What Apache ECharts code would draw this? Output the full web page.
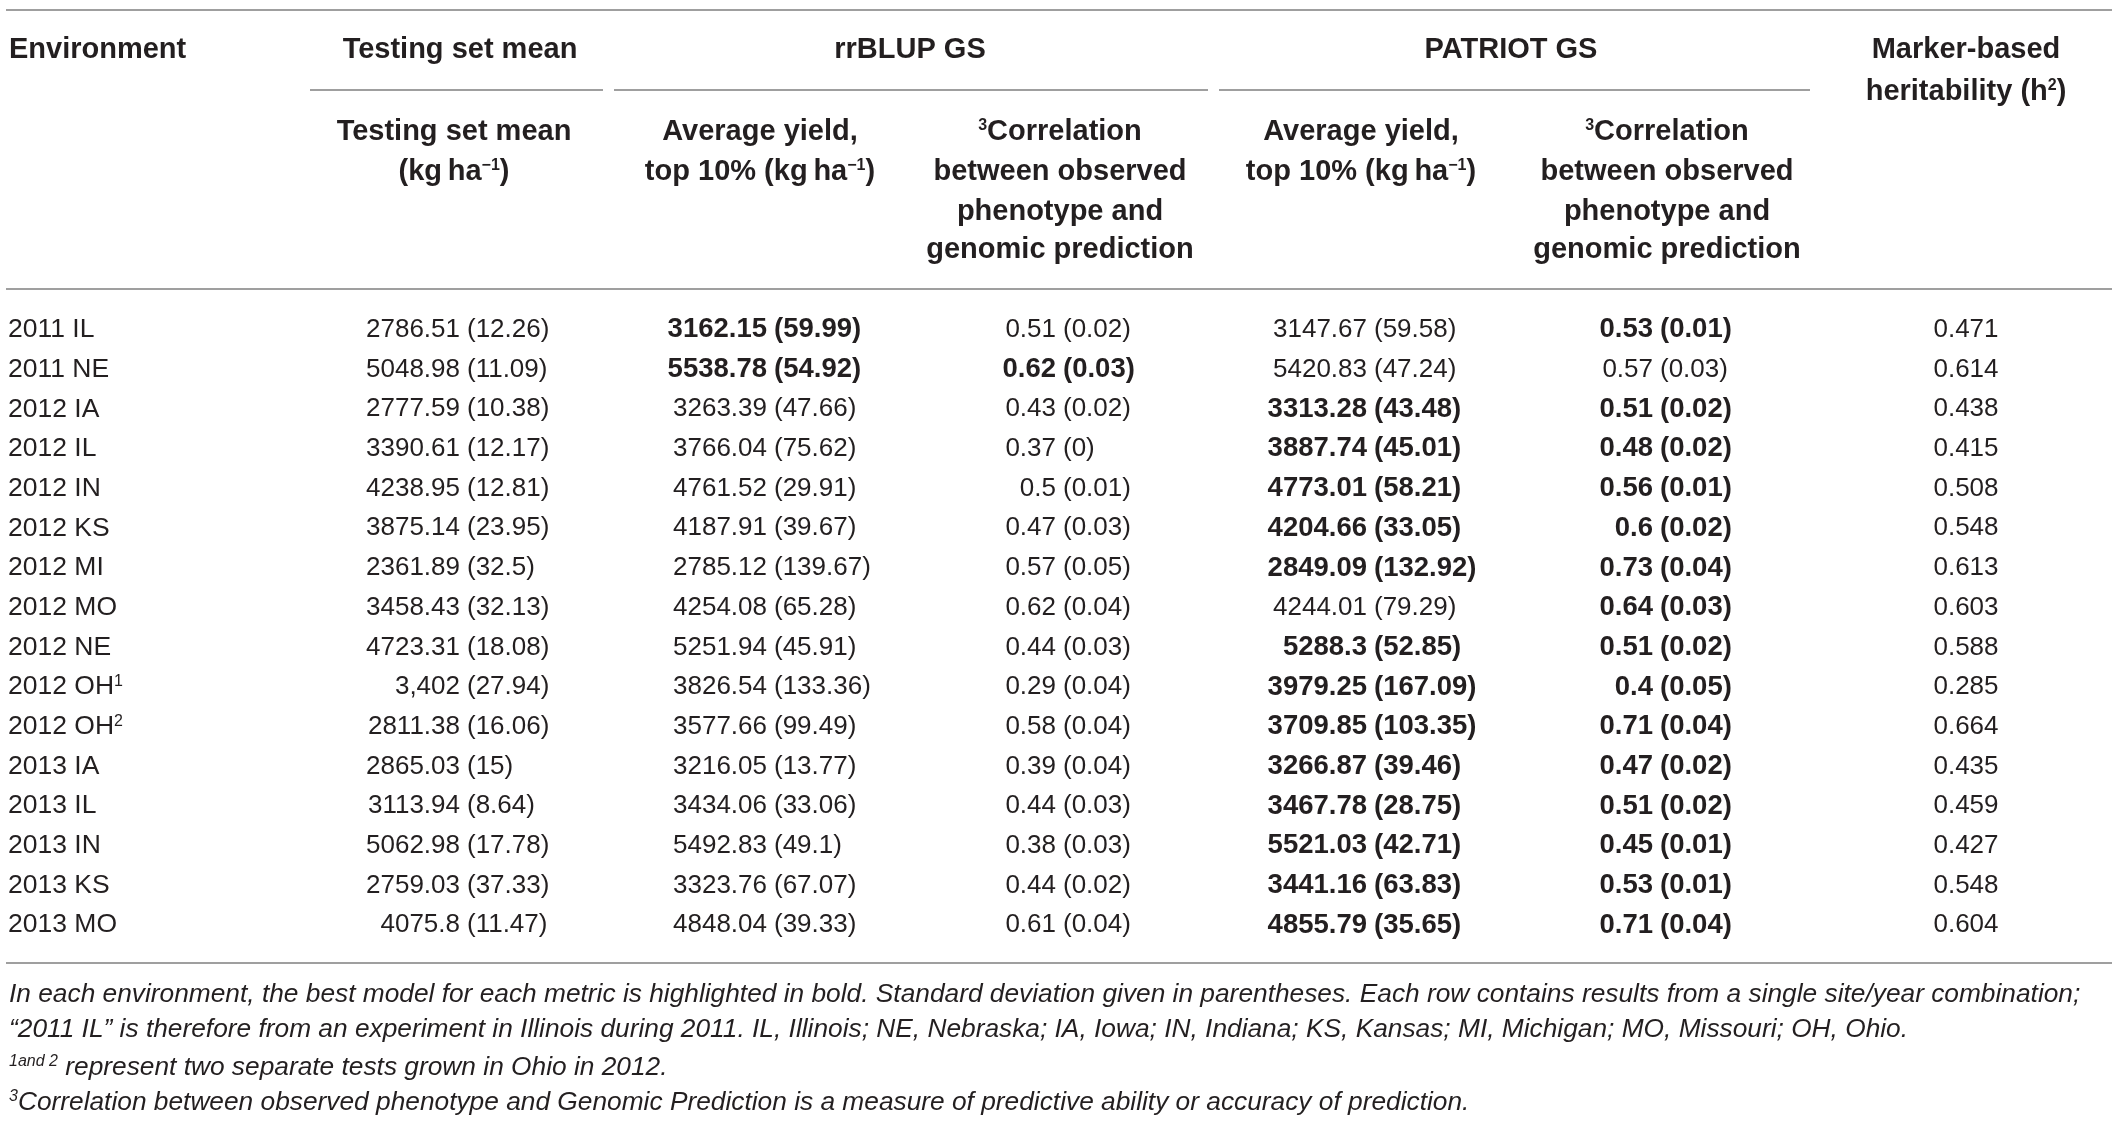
<!DOCTYPE html>
<html>
<head>
<meta charset="utf-8">
<title>rrBLUP vs PATRIOT GS</title>
<script src="https://cdn.jsdelivr.net/npm/echarts@6.0.0/dist/echarts.min.js"></script>
<style>
    html, body { margin: 0; padding: 0; background: #fff; }
    #chart { width: 2122px; height: 1136px; }
</style>
</head>
<body>
<div id="chart"></div>
<script>
// table values, one array per column
const environments = ['2011 IL', '2011 NE', '2012 IA', '2012 IL', '2012 IN', '2012 KS', '2012 MI', '2012 MO',
    '2012 NE', '2012 OH¹', '2012 OH²', '2013 IA', '2013 IL', '2013 IN', '2013 KS', '2013 MO'];

const testMean   = ['2786.51', '5048.98', '2777.59', '3390.61', '4238.95', '3875.14', '2361.89', '3458.43',
    '4723.31', '3,402', '2811.38', '2865.03', '3113.94', '5062.98', '2759.03', '4075.8'];
const testMeanSd = ['12.26', '11.09', '10.38', '12.17', '12.81', '23.95', '32.5', '32.13',
    '18.08', '27.94', '16.06', '15', '8.64', '17.78', '37.33', '11.47'];

const rrYield   = ['3162.15', '5538.78', '3263.39', '3766.04', '4761.52', '4187.91', '2785.12', '4254.08',
    '5251.94', '3826.54', '3577.66', '3216.05', '3434.06', '5492.83', '3323.76', '4848.04'];
const rrYieldSd = ['59.99', '54.92', '47.66', '75.62', '29.91', '39.67', '139.67', '65.28',
    '45.91', '133.36', '99.49', '13.77', '33.06', '49.1', '67.07', '39.33'];
const rrCorr    = ['0.51', '0.62', '0.43', '0.37', '0.5', '0.47', '0.57', '0.62',
    '0.44', '0.29', '0.58', '0.39', '0.44', '0.38', '0.44', '0.61'];
const rrCorrSd  = ['0.02', '0.03', '0.02', '0', '0.01', '0.03', '0.05', '0.04',
    '0.03', '0.04', '0.04', '0.04', '0.03', '0.03', '0.02', '0.04'];

const patYield   = ['3147.67', '5420.83', '3313.28', '3887.74', '4773.01', '4204.66', '2849.09', '4244.01',
    '5288.3', '3979.25', '3709.85', '3266.87', '3467.78', '5521.03', '3441.16', '4855.79'];
const patYieldSd = ['59.58', '47.24', '43.48', '45.01', '58.21', '33.05', '132.92', '79.29',
    '52.85', '167.09', '103.35', '39.46', '28.75', '42.71', '63.83', '35.65'];
const patCorr    = ['0.53', '0.57', '0.51', '0.48', '0.56', '0.6', '0.73', '0.64',
    '0.51', '0.4', '0.71', '0.47', '0.51', '0.45', '0.53', '0.71'];
const patCorrSd  = ['0.01', '0.03', '0.02', '0.02', '0.01', '0.02', '0.04', '0.03',
    '0.02', '0.05', '0.04', '0.02', '0.02', '0.01', '0.01', '0.04'];

const heritability = ['0.471', '0.614', '0.438', '0.415', '0.508', '0.548', '0.613', '0.603',
    '0.588', '0.285', '0.664', '0.435', '0.459', '0.427', '0.548', '0.604'];

// which model is printed in bold per row
const bestYield = ['rrBLUP', 'rrBLUP', 'PATRIOT', 'PATRIOT', 'PATRIOT', 'PATRIOT', 'PATRIOT', '',
    'PATRIOT', 'PATRIOT', 'PATRIOT', 'PATRIOT', 'PATRIOT', 'PATRIOT', 'PATRIOT', 'PATRIOT'];
const bestCorr  = ['PATRIOT', 'rrBLUP', 'PATRIOT', 'PATRIOT', 'PATRIOT', 'PATRIOT', 'PATRIOT', 'PATRIOT',
    'PATRIOT', 'PATRIOT', 'PATRIOT', 'PATRIOT', 'PATRIOT', 'PATRIOT', 'PATRIOT', 'PATRIOT'];

const FONT = '"Liberation Sans", Arial, Helvetica, sans-serif';
const INK = '#231f20';
const RULE = '#9f9f9f';

// column layout: x of the opening parenthesis (value sits left of it, sd right)
const columns = [
    { vals: testMean, sds: testMeanSd, anchor: 467, bold: () => false },
    { vals: rrYield,  sds: rrYieldSd,  anchor: 774, bold: i => bestYield[i] === 'rrBLUP' },
    { vals: rrCorr,   sds: rrCorrSd,   anchor: 1063, bold: i => bestCorr[i] === 'rrBLUP' },
    { vals: patYield, sds: patYieldSd, anchor: 1374, bold: i => bestYield[i] === 'PATRIOT' },
    { vals: patCorr,  sds: patCorrSd,  anchor: 1660, bold: i => bestCorr[i] === 'PATRIOT' }
];

function pairSeries(col) {
    return {
        type: 'custom',
        data: col.vals.map((v, i) => [col.anchor, i]),
        renderItem: function (params, api) {
            const i = api.value(1);
            const p = api.coord([api.value(0), i]);
            const b = col.bold(i);
            const st = { fontSize: b ? 27.5 : 26, fontFamily: FONT, fontWeight: b ? 'bold' : 'normal',
                fill: INK, verticalAlign: 'middle' };
            return {
                type: 'group',
                children: [
                    { type: 'text', style: Object.assign({ x: p[0] - 7, y: p[1], text: col.vals[i], align: 'right' }, st) },
                    { type: 'text', style: Object.assign({ x: p[0], y: p[1], text: '(' + col.sds[i] + ')', align: 'left' }, st) }
                ]
            };
        }
    };
}

const heritSeries = {
    type: 'custom',
    data: heritability.map((v, i) => [1966, i]),
    renderItem: function (params, api) {
        const i = api.value(1);
        const p = api.coord([api.value(0), i]);
        return {
            type: 'text',
            style: { x: p[0], y: p[1], text: heritability[i], align: 'center', verticalAlign: 'middle',
                fontSize: 26, fontFamily: FONT, fill: INK }
        };
    }
};

// header / footnote helpers
const supRich = {
    sup: { fontSize: 16, fontFamily: FONT, fontWeight: 'bold', fill: INK, verticalAlign: 'top', lineHeight: 29 }
};
function head(x, y, text, align) {
    return {
        type: 'text', x: x, y: y,
        style: { text: text, align: align || 'center', verticalAlign: 'middle', fontSize: 29, fontWeight: 'bold',
            fontFamily: FONT, fill: INK, lineHeight: 29, rich: supRich }
    };
}
function rule(x1, x2, y) {
    return { type: 'line', shape: { x1: x1, y1: y, x2: x2, y2: y }, style: { stroke: RULE, lineWidth: 2 } };
}
function note(y, text) {
    return {
        type: 'text', x: 9, y: y,
        style: { text: text, align: 'left', verticalAlign: 'middle', fontSize: 26.3, fontStyle: 'italic',
            fontFamily: FONT, fill: INK, lineHeight: 28,
            rich: { sup: { fontSize: 16, fontStyle: 'italic', fontFamily: FONT, fill: INK, verticalAlign: 'top', lineHeight: 28 } } }
    };
}

const graphics = [
    rule(6, 2112, 10),
    rule(310, 603, 90), rule(614, 1208, 90), rule(1219, 1810, 90),
    rule(6, 2112, 289),
    rule(6, 2112, 963),

    head(9, 50, 'Environment', 'left'),
    head(460, 50, 'Testing set mean'),
    head(910, 50, 'rrBLUP GS'),
    head(1511, 50, 'PATRIOT GS'),
    head(1966, 50, 'Marker-based'),
    head(1966, 92, 'heritability (h{sup|2})'),

    head(454, 132, 'Testing set mean'),
    head(454, 172, '(kg\u2009ha{sup|\u22121})'),
    head(760, 132, 'Average yield,'),
    head(760, 172, 'top 10% (kg\u2009ha{sup|\u22121})'),
    head(1060, 132, '{sup|3}Correlation'),
    head(1060, 172, 'between observed'),
    head(1060, 212, 'phenotype and'),
    head(1060, 250, 'genomic prediction'),
    head(1361, 132, 'Average yield,'),
    head(1361, 172, 'top 10% (kg\u2009ha{sup|\u22121})'),
    head(1667, 132, '{sup|3}Correlation'),
    head(1667, 172, 'between observed'),
    head(1667, 212, 'phenotype and'),
    head(1667, 250, 'genomic prediction'),

    note(995, 'In each environment, the best model for each metric is highlighted in bold. Standard deviation given in parentheses. Each row contains results from a single site/year combination;'),
    note(1030, '\u201c2011 IL\u201d is therefore from an experiment in Illinois during 2011. IL, Illinois; NE, Nebraska; IA, Iowa; IN, Indiana; KS, Kansas; MI, Michigan; MO, Missouri; OH, Ohio.'),
    note(1068, '{sup|1and 2} represent two separate tests grown in Ohio in 2012.'),
    note(1103, '{sup|3}Correlation between observed phenotype and Genomic Prediction is a measure of predictive ability or accuracy of prediction.')
];

const chart = echarts.init(document.getElementById('chart'));

chart.setOption({
    animation: false,
    backgroundColor: '#fff',
    grid: { left: 0, right: 0, top: 310, height: 635 },
    xAxis: { type: 'value', min: 0, max: 2122, show: false },
    yAxis: {
        type: 'category',
        data: environments,
        inverse: true,
        axisLine: { show: false },
        axisTick: { show: false },
        splitLine: { show: false },
        axisLabel: {
            inside: true,
            align: 'left',
            margin: 8,
            fontSize: 26.5,
            fontFamily: FONT,
            color: INK,
            formatter: v => v.replace('¹', '{sup|1}').replace('²', '{sup|2}'),
            rich: { sup: { fontSize: 16, fontFamily: FONT, color: INK, verticalAlign: 'top', lineHeight: 26 } }
        }
    },
    series: columns.map(pairSeries).concat([heritSeries]),
    graphic: graphics
});
</script>
</body>
</html>
